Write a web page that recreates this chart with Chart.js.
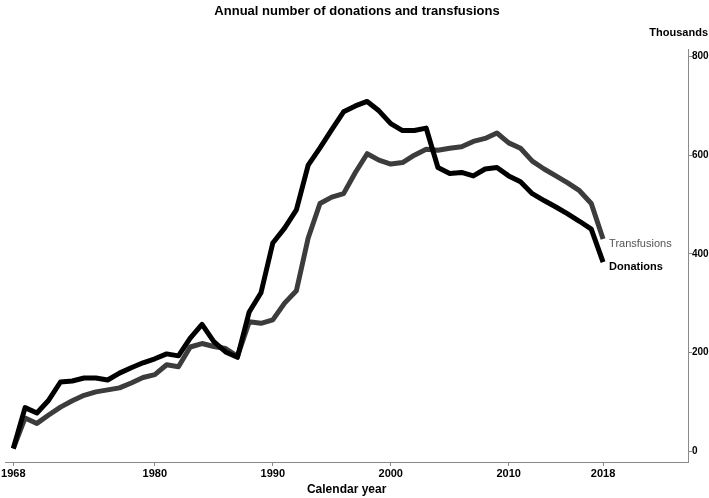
<!DOCTYPE html>
<html>
<head>
<meta charset="utf-8">
<script src="https://cdn.jsdelivr.net/npm/chart.js@4/dist/chart.umd.min.js"></script>
<style>
  html, body { margin: 0; padding: 0; background: #fff; }
  #wrap { width: 709px; height: 498px; }
</style>
</head>
<body>
<div id="wrap"><canvas id="myChart"></canvas></div>
<script>
// Data (thousands)
const years = [];
for (let y = 1968; y <= 2018; y++) years.push(y);

const donations = [
    5, 88, 77, 103, 140, 142, 148, 148, 144, 158,
    169, 179, 187, 197, 193, 229, 257, 222, 201, 190,
    282, 321, 422, 452, 489, 580, 615, 652, 688, 700,
    709, 690, 664, 650, 650, 655, 575, 563, 565, 558,
    572, 575, 558, 546, 522, 508, 495, 481, 466, 450,
    383
];
const transfusions = [
    5, 67, 56, 73, 89, 102, 113, 120, 124, 128,
    138, 149, 155, 175, 171, 211, 218, 212, 208, 192,
    262, 259, 266, 300, 325, 432, 502, 515, 522, 565,
    603, 590, 582, 585, 600, 612, 610, 614, 617, 628,
    634, 645, 625, 614, 588, 572, 558, 544, 528, 502,
    430
];
const xTicks = [1968, 1980, 1990, 2000, 2010, 2018];
const yTicks = [0, 200, 400, 600, 800];

const FONT = "'Liberation Sans Narrow', 'Arial Narrow', 'Liberation Sans', Arial, sans-serif";

// draws "Thousands" and the labels at the end of each line
const textPlugin = {
    id: 'textPlugin',
    afterDatasetsDraw(chart) {
        const c = chart.ctx;
        c.save();
        c.textBaseline = 'middle';
        c.textAlign = 'right';
        c.fillStyle = '#000';
        c.font = 'bold 11px ' + FONT;
        c.fillText('Thousands', 708, 33);

        c.textAlign = 'left';
        chart.data.datasets.forEach((ds, i) => {
            const meta = chart.getDatasetMeta(i);
            const pt = meta.data[meta.data.length - 1];
            c.fillStyle = ds.labelColor;
            c.font = ds.labelWeight + ' 11px ' + FONT;
            c.fillText(ds.label, pt.x + 6, pt.y + 5);
        });
        c.restore();
    }
};

let ctx = document.getElementById('myChart').getContext('2d');
let chart = new Chart(ctx, {
    type: 'line',
    data: {
        labels: years,
        datasets: [{
            label: 'Donations',
            data: years.map((y, i) => ({x: y, y: donations[i]})),
            borderColor: '#000000',
            labelColor: '#000000',
            labelWeight: 'bold',
            borderWidth: 5,
            pointRadius: 0,
            tension: 0,
            borderJoinStyle: 'round'
        }, {
            label: 'Transfusions',
            data: years.map((y, i) => ({x: y, y: transfusions[i]})),
            borderColor: '#3c3c3c',
            labelColor: '#555555',
            labelWeight: 'normal',
            borderWidth: 5,
            pointRadius: 0,
            tension: 0,
            borderJoinStyle: 'round'
        }]
    },
    options: {
        responsive: true,
        maintainAspectRatio: false,
        animation: false,
        layout: {
            padding: {left: 5, right: 0, top: 0, bottom: 0}
        },
        plugins: {
            legend: {display: false},
            tooltip: {enabled: false},
            title: {
                display: true,
                text: 'Annual number of donations and transfusions',
                color: '#000',
                font: {family: FONT, size: 13, weight: 'bold'},
                padding: {top: 4, bottom: 30}
            }
        },
        scales: {
            x: {
                type: 'linear',
                min: 1967.32,
                max: 2025.2,
                afterFit: (scale) => { scale.height = 36; },
                afterBuildTicks: (scale) => { scale.ticks = xTicks.map(v => ({value: v})); },
                grid: {
                    drawOnChartArea: false,
                    drawTicks: true,
                    tickLength: 4,
                    color: '#8a8a8a'
                },
                border: {color: '#8a8a8a', width: 1},
                ticks: {
                    color: '#000',
                    padding: 1,
                    maxRotation: 0,
                    autoSkip: false,
                    font: {family: FONT, size: 11, weight: 'bold'},
                    callback: (v) => String(v)
                },
                title: {
                    display: true,
                    text: 'Calendar year',
                    color: '#000',
                    font: {family: FONT, size: 12, weight: 'bold'},
                    padding: {top: 0, bottom: 1}
                }
            },
            y: {
                position: 'right',
                min: -22.3,
                max: 814.2,
                afterFit: (scale) => { scale.width = 21; },
                afterBuildTicks: (scale) => { scale.ticks = yTicks.map(v => ({value: v})); },
                grid: {
                    drawOnChartArea: false,
                    drawTicks: true,
                    tickLength: 4,
                    color: '#8a8a8a'
                },
                border: {color: '#8a8a8a', width: 1},
                ticks: {
                    color: '#000',
                    padding: 0,
                    font: {family: FONT, size: 10, weight: 'bold'},
                    callback: (v) => String(v)
                }
            }
        }
    },
    plugins: [textPlugin]
});
</script>
</body>
</html>
